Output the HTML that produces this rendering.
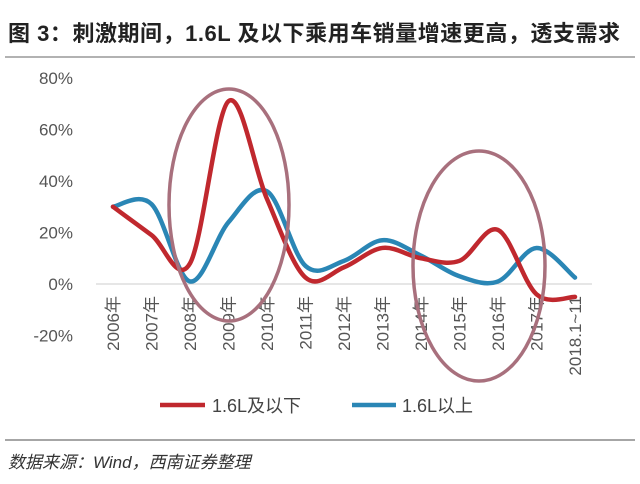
<!DOCTYPE html>
<html><head><meta charset="utf-8"><style>
body{margin:0;background:#fff;width:640px;height:479px;overflow:hidden;font-family:"Liberation Sans","Noto Sans CJK SC",sans-serif}
</style></head><body>
<svg width="640" height="479" xmlns="http://www.w3.org/2000/svg">
<text x="8" y="41" font-size="22" font-weight="bold" fill="#222" textLength="612" lengthAdjust="spacing" font-family="Liberation Sans, Noto Sans CJK SC, sans-serif">图 3：刺激期间，1.6L 及以下乘用车销量增速更高，透支需求</text>
<line x1="5" y1="57" x2="635" y2="57" stroke="#999" stroke-width="1.5"/>
<g id="yaxis"></g>
<g id="xaxis"></g>
<g id="series"></g>
<ellipse cx="229" cy="205" rx="60" ry="116" fill="none" stroke="#a8707d" stroke-width="3.5"/>
<ellipse cx="479" cy="266" rx="66" ry="115" fill="none" stroke="#a8707d" stroke-width="3.5"/>
<g>
<line x1="160" y1="405" x2="205" y2="405" stroke="#c0282e" stroke-width="4.5"/>
<text x="212" y="412" font-size="18" fill="#444">1.6L及以下</text>
<line x1="352" y1="405" x2="396" y2="405" stroke="#2a86b5" stroke-width="4.5"/>
<text x="402" y="412" font-size="18" fill="#444">1.6L以上</text>
</g>
<line x1="5" y1="440" x2="635" y2="440" stroke="#888" stroke-width="1.5"/>
<text x="8" y="468" font-size="17" font-style="italic" fill="#333">数据来源：Wind，西南证券整理</text>
</svg>
<script>
const categories=["2006年","2007年","2008年","2009年","2010年","2011年","2012年","2013年","2014年","2015年","2016年","2017年","2018.1~11"];
const smallEngine=[30,19,8,71,33,2.5,6.5,14,10,9,21,-4,-5];
const largeEngine=[30,31,1,24,36,7,9,17,11,3,1,14,2.5];
const yTicks=[-20,0,20,40,60,80];
const NS="http://www.w3.org/2000/svg";
const x=i=>113+i*38.5;
const y=v=>284-v*2.575;
function mk(t,a,p){const e=document.createElementNS(NS,t);for(const k in a)e.setAttribute(k,a[k]);p.appendChild(e);return e;}
const ya=document.getElementById('yaxis');
yTicks.forEach(v=>{const t=mk('text',{x:73,y:y(v)+6,'text-anchor':'end','font-size':17,fill:'#555'},ya);t.textContent=v+'%';

});
const xa=document.getElementById('xaxis');
const zl=mk('line',{x1:96,y1:y(0),x2:592,y2:y(0),stroke:'#ccc','stroke-width':1},xa);


categories.forEach((c,i)=>{const t=mk('text',{transform:`translate(${x(i)+6},296) rotate(-90)`,'text-anchor':'end','font-size':17,fill:'#555'},xa);t.textContent=c;

});
function path(vals){const p=vals.map((v,i)=>[x(i),y(v)]);let d=`M${p[0][0]},${p[0][1]}`;
for(let i=0;i<p.length-1;i++){const p0=p[Math.max(i-1,0)],p1=p[i],p2=p[i+1],p3=p[Math.min(i+2,p.length-1)];const k=6;
d+=` C${p1[0]+(p2[0]-p0[0])/k},${p1[1]+(p2[1]-p0[1])/k} ${p2[0]-(p3[0]-p1[0])/k},${p2[1]-(p3[1]-p1[1])/k} ${p2[0]},${p2[1]}`;}return d;}
const s=document.getElementById('series');
const lb=mk('path',{d:path(largeEngine),fill:'none',stroke:'#2a86b5','stroke-width':4.5,'stroke-linecap':'round'},s);


const lr=mk('path',{d:path(smallEngine),fill:'none',stroke:'#c0282e','stroke-width':4.5,'stroke-linecap':'round'},s);


</script>
</body></html>
